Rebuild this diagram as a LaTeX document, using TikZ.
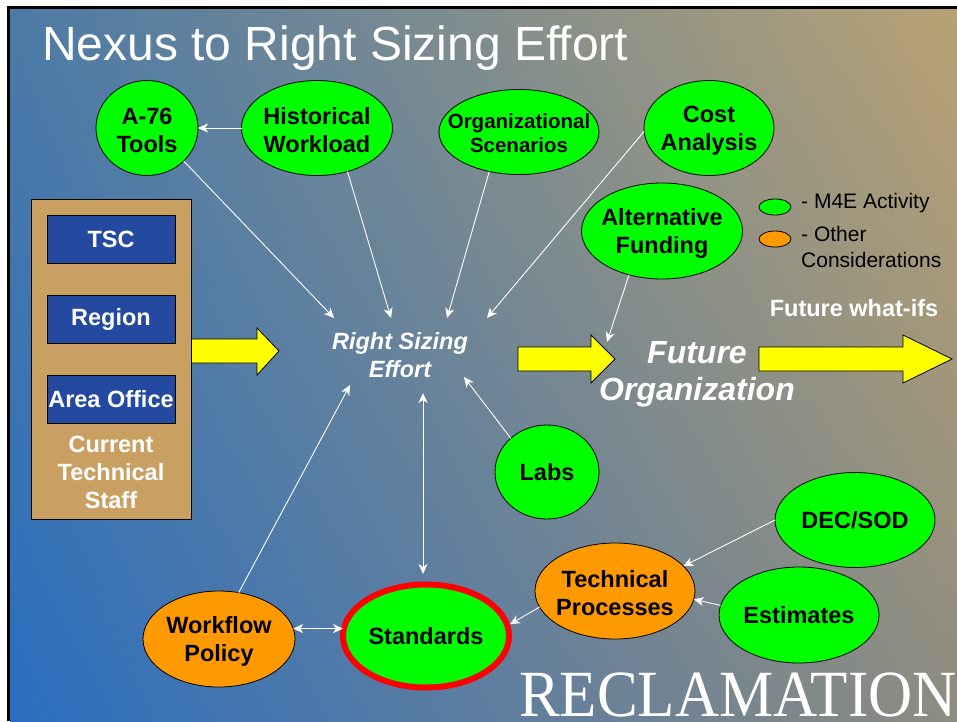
\documentclass[tikz,border=0pt]{standalone}
\usepackage{fontspec}
\usepackage{graphicx}
\setmainfont{Liberation Sans}
\newfontfamily\serifR{Liberation Serif}
\usetikzlibrary{shapes.geometric,arrows.meta,shadings}
\definecolor{mygreen}{HTML}{00FF00}
\definecolor{myorange}{HTML}{FF9900}
\definecolor{mytan}{HTML}{C9A062}
\definecolor{myblue}{HTML}{2349A1}
\definecolor{myyellow}{HTML}{FFFF00}
\definecolor{bgTL}{HTML}{4C7AA6}
\definecolor{bgTR}{HTML}{B8A274}
\definecolor{bgBL}{HTML}{2A6EC0}
\definecolor{bgBR}{HTML}{8E8C80}
\begin{document}
\begin{tikzpicture}[x=1pt,y=-1pt,
  bub/.style={ellipse,draw=black,line width=0.8pt,fill=mygreen,inner sep=0pt,outer sep=0pt},
  obub/.style={bub,fill=myorange},
  lbl/.style={align=center,text=black,font=\bfseries\fontsize{23.5}{28}\selectfont,inner sep=0pt},
  mlbl/.style={lbl,yshift=-2.5pt},
  slbl/.style={align=center,text=black,font=\bfseries\fontsize{20.5}{24}\selectfont,inner sep=0pt,yshift=-1.5pt},
  wlbl/.style={align=center,text=white,font=\bfseries\fontsize{23.5}{28}\selectfont,inner sep=0pt},
  bbox/.style={draw=black,line width=0.8pt,fill=myblue,minimum width=128pt,minimum height=48pt,inner sep=0pt},
  yarrow/.style={draw=black,line width=0.8pt,fill=myyellow},
  con/.style={draw=white,line width=0.9pt,-{Stealth[length=10pt,width=9pt,inset=3pt]}},
  con2/.style={draw=white,line width=0.9pt,{Stealth[length=10pt,width=9pt,inset=3pt]}-{Stealth[length=10pt,width=9pt,inset=3pt]}}
]
\useasboundingbox (0,0) rectangle (957,721);
\fill[white] (0,0) rectangle (957,721);
\fill[black] (7,6) rectangle (957,721);
\shade[upper left=bgTL,upper right=bgTR,lower left=bgBL,lower right=bgBR] (10,9) rectangle (957,721);

% title
\node[anchor=base west,inner sep=0pt,text=white,font=\fontsize{48}{56}\selectfont] (title) at (42,60) {Nexus to Right Sizing Effort};

% yellow arrows
\draw[yarrow] (191,339) -- (257,339) -- (257,328) -- (279,351) -- (257,375) -- (257,363) -- (191,363) -- cycle;
\draw[yarrow] (518,347) -- (591,347) -- (591,335) -- (615,359) -- (591,383) -- (591,371) -- (518,371) -- cycle;
\draw[yarrow] (759,347) -- (903,347) -- (903,335) -- (952,359) -- (903,383) -- (903,371) -- (759,371) -- cycle;

% current staff box
\node[draw=black,line width=0.8pt,fill=mytan,minimum width=160pt,minimum height=320pt,inner sep=0pt] (cts) at (111,359.5) {};
\node[bbox] (tsc) at (111,239) {};
\node[wlbl] (tsct) at (tsc) {TSC};
\node[bbox] (reg) at (111,319) {};
\node[wlbl] (regt) at (reg) {Region};
\node[bbox] (ao) at (111,399) {};
\node[wlbl] (aot) at (ao) {Area Office};
\node[wlbl] (ctst) at (111,472) {Current\\Technical\\Staff};

% bubbles
\node[bub,minimum width=102pt,minimum height=95pt,label={[mlbl]center:A-76\\Tools}] (a76) at (147,128) {};
\node[bub,minimum width=151pt,minimum height=95pt,label={[mlbl]center:Historical\\Workload}] (hist) at (317,128) {};
\node[bub,minimum width=160pt,minimum height=85pt,label={[slbl]center:Organizational\\Scenarios}] (org) at (519,132) {};
\node[bub,minimum width=130pt,minimum height=95pt,label={[mlbl]center:Cost\\Analysis}] (cost) at (709,128) {};
\node[bub,minimum width=161pt,minimum height=96pt,label={[mlbl]center:Alternative\\Funding}] (alt) at (662,231) {};
\node[bub,minimum width=104pt,minimum height=94pt,label={[lbl]center:Labs}] (labs) at (547,472) {};
\node[bub,minimum width=160pt,minimum height=95pt,label={[lbl]center:DEC/SOD}] (dec) at (855,520) {};
\node[obub,minimum width=160pt,minimum height=96pt,label={[mlbl]center:Technical\\Processes}] (tech) at (615,591) {};
\node[bub,minimum width=160pt,minimum height=96pt,label={[lbl]center:Estimates}] (est) at (799,615) {};
\node[bub,draw=red,line width=6pt,outer sep=3pt,minimum width=166pt,minimum height=103pt,label={[lbl]center:Standards}] (stand) at (426,636) {};
\node[obub,minimum width=152pt,minimum height=96pt,label={[mlbl]center:Workflow\\Policy}] (wf) at (219,639) {};

% legend
\node[bub,minimum width=32pt,minimum height=16pt] (lg1) at (775,207) {};
\node[obub,minimum width=32pt,minimum height=16pt] (lg2) at (775,239) {};
\node[anchor=west,inner sep=0pt,text=black,font=\fontsize{21}{26}\selectfont] (lgt1) at (801,203) {- M4E Activity};
\node[anchor=west,inner sep=0pt,text=black,align=left,font=\fontsize{21}{26}\selectfont] (lgt2) at (801,247) {- Other\\Considerations};

% central texts
\node[align=center,text=white,inner sep=0pt,font=\bfseries\itshape\fontsize{23.5}{28}\selectfont] (rse) at (400,355) {Right Sizing\\Effort};
\node[align=center,text=white,inner sep=0pt,font=\bfseries\itshape\fontsize{32}{37}\selectfont] (fut) at (697,374) {Future\\Organization};
\node[wlbl] (wif) at (854,308) {Future what-ifs};

% reclamation
\node[anchor=base west,inner sep=0pt,text=white,font=\serifR\fontsize{66}{70}\selectfont] (recl) at (519,716) {\scalebox{0.925}[1]{RECLAMATION}};

% connector end points
\coordinate (rA) at (334,318);
\coordinate (rH) at (391,318);
\coordinate (rO) at (447,318);
\coordinate (rC) at (487,318);
\coordinate (rL) at (464,377);
\coordinate (rW) at (350,385);
\coordinate (rS) at (423,393);
\coordinate (fA) at (607,342);

% connectors
\draw[con] (hist.west) -- (a76.east);
\draw[con] (a76.-42) -- (rA);
\draw[con] (hist.-55) -- (rH);
\draw[con] (org.-127) -- (rO);
\draw[con] (cost.183) -- (rC);
\draw[con] (alt.-127) -- (fA);
\draw[con] (labs.137) -- (rL);
\draw[con] (wf.67) -- (rW);
\draw[con2,shorten >=7.5pt] (rS) -- (rS |- stand.north);
\draw[con2,shorten >=-3pt] (wf.8) -- (wf.8 -| stand.west);
\draw[con] (tech.192.5) -- (stand.8.6);
\draw[con] (dec.west) -- (tech.20.3);
\draw[con] (est.173.6) -- (tech.-6.3);
\end{tikzpicture}
\end{document}
